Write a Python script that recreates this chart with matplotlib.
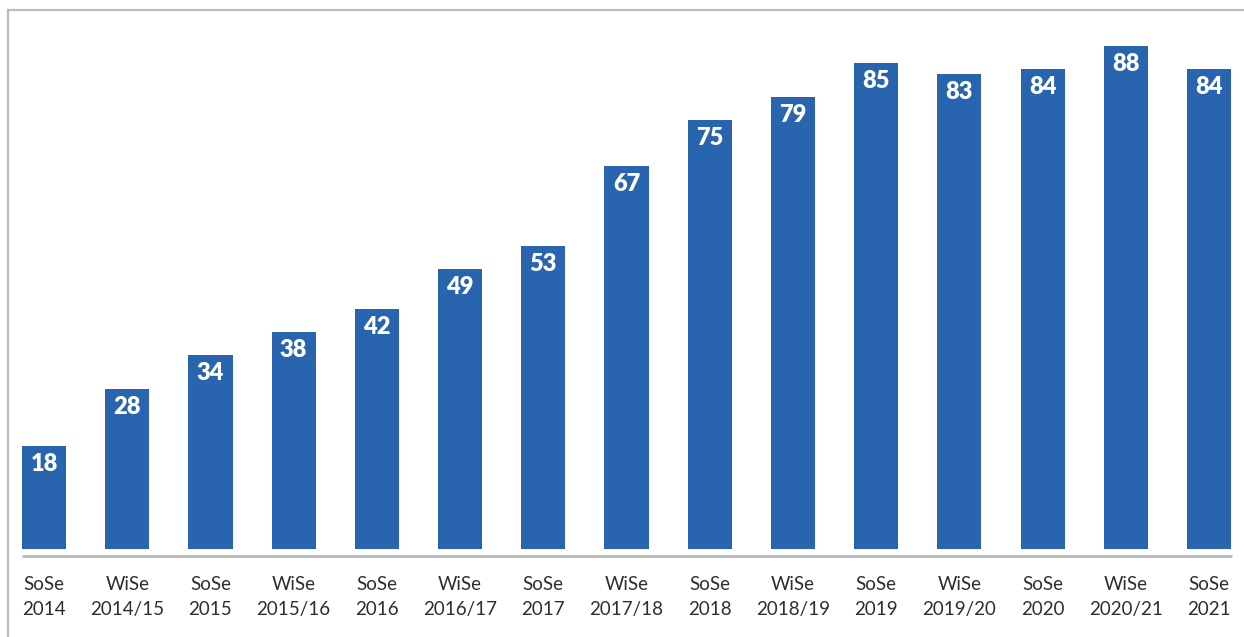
import matplotlib.pyplot as plt
from matplotlib.lines import Line2D

semesters = ["SoSe\n2014", "WiSe\n2014/15", "SoSe\n2015", "WiSe\n2015/16", "SoSe\n2016",
             "WiSe\n2016/17", "SoSe\n2017", "WiSe\n2017/18", "SoSe\n2018", "WiSe\n2018/19",
             "SoSe\n2019", "WiSe\n2019/20", "SoSe\n2020", "WiSe\n2020/21", "SoSe\n2021"]
values = [18, 28, 34, 38, 42, 49, 53, 67, 75, 79, 85, 83, 84, 88, 84]

bar_color = "#2964ae"
grey = "#bdbdbd"
text_color = "#2e2e2e"

plt.rcParams['font.family'] = ['Lato', 'DejaVu Sans']

fig = plt.figure(figsize=(12.44, 6.37), dpi=100)
ax = fig.add_axes([0, 0, 1, 1])

x = list(range(len(values)))
ax.bar(x, values, width=0.53, color=bar_color)

# value labels inside the top of each bar
for i, v in enumerate(values):
    ax.annotate(str(v), xy=(i, v), xytext=(0, -13), textcoords='offset points',
                ha='center', va='center', color='white', fontsize=17, fontweight='heavy')

# baseline a little below the bars
ax.plot([-0.27, len(values) - 1 + 0.27], [-1.25, -1.25], color=grey, lw=2.2,
        solid_capstyle='butt')

# category labels under the baseline
for i, s in enumerate(semesters):
    ax.text(i, -8.4, s, ha='center', va='center', color=text_color, fontsize=13.5,
            linespacing=1.55)

ax.set_xlim(-0.529, 14.42)
ax.set_ylim(-15.38, 95.98)
ax.axis('off')

# frame along top and left edge
fig.add_artist(Line2D([8 / 1244, 1], [1 - 10 / 637, 1 - 10 / 637], color=grey, lw=1.6,
                      transform=fig.transFigure))
fig.add_artist(Line2D([8 / 1244, 8 / 1244], [0, 1 - 10 / 637], color=grey, lw=1.6,
                      transform=fig.transFigure))

fig.savefig("out.png", dpi=100)
